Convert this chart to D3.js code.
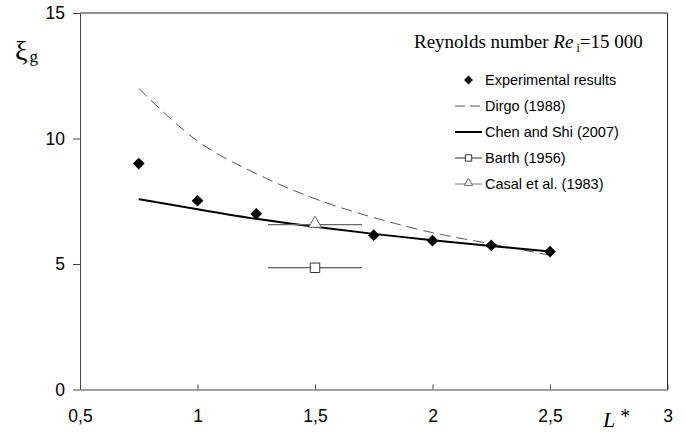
<!DOCTYPE html>
<html>
<head>
<meta charset="utf-8">
<script src="https://cdn.jsdelivr.net/npm/d3@7"></script>
<style>
  html, body { margin: 0; padding: 0; background: #fff; }
  svg { display: block; }
  .tick text { font-family: "Liberation Sans", Arial, sans-serif; font-size: 17.5px; fill: #000; }
</style>
</head>
<body>
<svg id="chart" width="686" height="435"></svg>
<script>
// Dimensionless length L* and gas hold-up coefficient ξg at Re_i = 15 000
const expL = [0.75, 1.0, 1.25, 1.75, 2.0, 2.25, 2.5];
const expXi = [9.0, 7.52, 7.0, 6.15, 5.93, 5.74, 5.49];

const dirgoL = [0.75, 1.0, 1.25, 1.5, 1.75, 2.0, 2.25, 2.5];
const dirgoXi = [12.0, 9.9, 8.6, 7.6, 6.85, 6.25, 5.8, 5.35];

const chenL = [0.75, 1.0, 1.25, 1.5, 1.75, 2.0, 2.25, 2.5];
const chenXi = [7.58, 7.18, 6.8, 6.48, 6.2, 5.95, 5.72, 5.5];

// Single correlations plotted with their L* range bars
const barth = { L: 1.5, xi: 4.85, lo: 1.3, hi: 1.7 };
const casal = { L: 1.5, xi: 6.57, lo: 1.3, hi: 1.7 };

const xTicks = [0.5, 1, 1.5, 2, 2.5, 3];
const yTicks = [0, 5, 10, 15];
const legendLabels = ["Experimental results", "Dirgo (1988)", "Chen and Shi (2007)", "Barth (1956)", "Casal et al. (1983)"];

const svg = d3.select("#chart");
const m = { left: 80, right: 667.5, top: 13, bottom: 389.5 };

const x = d3.scaleLinear().domain([0.5, 3]).range([m.left, m.right]);
const y = d3.scaleLinear().domain([0, 15]).range([m.bottom, m.top]);
const fmt = d => String(d).replace(".", ",");

// Frame on top and right
svg.append("path")
  .attr("d", `M${m.left},${m.top}H${m.right}V${m.bottom}`)
  .attr("fill", "none").attr("stroke", "#222").attr("stroke-width", 1);

// Axes
const xAxis = svg.append("g").attr("transform", `translate(0,${m.bottom})`)
  .call(d3.axisBottom(x).tickValues(xTicks).tickFormat(fmt).tickSizeInner(-5).tickSizeOuter(0).tickPadding(20));
xAxis.selectAll(".tick line").attr("stroke", "#444");
xAxis.select(".domain").attr("stroke", "#444");

const yAxis = svg.append("g").attr("transform", `translate(${m.left},0)`)
  .call(d3.axisLeft(y).tickValues(yTicks).tickFormat(fmt).tickSizeInner(7).tickSizeOuter(0).tickPadding(8));
yAxis.selectAll(".tick line").attr("stroke", "#444");
yAxis.select(".domain").attr("stroke", "#444");

// Dirgo correlation (dashed)
const line = d3.line().curve(d3.curveMonotoneX);
svg.append("path")
  .attr("d", line(dirgoL.map((l, i) => [x(l), y(dirgoXi[i])])))
  .attr("fill", "none").attr("stroke", "#555").attr("stroke-width", 1)
  .attr("stroke-dasharray", "11,6");

// Chen and Shi correlation (solid)
svg.append("path")
  .attr("d", line(chenL.map((l, i) => [x(l), y(chenXi[i])])))
  .attr("fill", "none").attr("stroke", "#000").attr("stroke-width", 2);

// Range bars
[[casal, "#666"], [barth, "#333"]].forEach(([p, c]) => {
  svg.append("line")
    .attr("x1", x(p.lo)).attr("x2", x(p.hi))
    .attr("y1", y(p.xi)).attr("y2", y(p.xi))
    .attr("stroke", c).attr("stroke-width", 1.2);
});

// Experimental points
svg.append("g").selectAll("path")
  .data(expL.map((l, i) => [l, expXi[i]]))
  .join("path")
  .attr("transform", d => `translate(${x(d[0])},${y(d[1])}) rotate(45)`)
  .attr("d", d3.symbol(d3.symbolSquare).size(68))
  .attr("fill", "#000");

// Barth square and Casal triangle
svg.append("path")
  .attr("transform", `translate(${x(barth.L)},${y(barth.xi)})`)
  .attr("d", d3.symbol(d3.symbolSquare).size(90))
  .attr("fill", "#fff").attr("stroke", "#333").attr("stroke-width", 1);
svg.append("path")
  .attr("transform", `translate(${x(casal.L)},${y(casal.xi) - 1})`)
  .attr("d", d3.symbol(d3.symbolTriangle).size(70))
  .attr("fill", "#fff").attr("stroke", "#666").attr("stroke-width", 1);

// Title inside the plot
const title = svg.append("text")
  .attr("x", 414).attr("y", 48)
  .attr("font-family", "'Liberation Serif', 'Times New Roman', serif")
  .attr("font-size", 19).attr("fill", "#000");
title.append("tspan").text("Reynolds number ");
title.append("tspan").attr("font-style", "italic").text("Re");
title.append("tspan").attr("font-size", 12).attr("dx", 3).attr("dy", 4).text("i");
title.append("tspan").attr("dy", -4).text("=15 000");

// Legend
const lg = svg.append("g").attr("font-family", "'Liberation Sans', Arial, sans-serif").attr("font-size", 14.5);
const rowY = [80, 106, 132, 158, 184];
const sx0 = 455, sx1 = 482;
legendLabels.forEach((t, i) => {
  lg.append("text").attr("x", 485).attr("y", rowY[i] + 5).text(t);
});
lg.append("path")
  .attr("transform", `translate(${(sx0 + sx1) / 2},${rowY[0]}) rotate(45)`)
  .attr("d", d3.symbol(d3.symbolSquare).size(40)).attr("fill", "#000");
lg.append("line").attr("x1", sx0).attr("x2", sx1).attr("y1", rowY[1]).attr("y2", rowY[1])
  .attr("stroke", "#555").attr("stroke-dasharray", "10,5");
lg.append("line").attr("x1", sx0).attr("x2", sx1).attr("y1", rowY[2]).attr("y2", rowY[2])
  .attr("stroke", "#000").attr("stroke-width", 2);
lg.append("line").attr("x1", sx0).attr("x2", sx1).attr("y1", rowY[3]).attr("y2", rowY[3])
  .attr("stroke", "#333");
lg.append("path").attr("transform", `translate(${(sx0 + sx1) / 2},${rowY[3]})`)
  .attr("d", d3.symbol(d3.symbolSquare).size(40)).attr("fill", "#fff").attr("stroke", "#333");
lg.append("line").attr("x1", sx0).attr("x2", sx1).attr("y1", rowY[4]).attr("y2", rowY[4])
  .attr("stroke", "#777");
lg.append("path").attr("transform", `translate(${(sx0 + sx1) / 2},${rowY[4] - 1})`)
  .attr("d", d3.symbol(d3.symbolTriangle).size(30)).attr("fill", "#fff").attr("stroke", "#666");

// Axis titles
const yt = svg.append("text").attr("x", 15).attr("y", 60)
  .attr("font-family", "'Liberation Serif', 'Times New Roman', serif").attr("fill", "#000");
yt.append("tspan").attr("font-size", 28).text("ξ");
yt.append("tspan").attr("font-size", 17).attr("dx", 2).attr("dy", 2).text("g");

const xt = svg.append("text").attr("x", 603).attr("y", 427)
  .attr("font-family", "'Liberation Serif', 'Times New Roman', serif").attr("fill", "#000").attr("font-size", 22);
xt.append("tspan").attr("font-style", "italic").text("L");
xt.append("tspan").attr("dx", 5).attr("dy", -4).attr("font-size", 20).text("*");
</script>
</body>
</html>
